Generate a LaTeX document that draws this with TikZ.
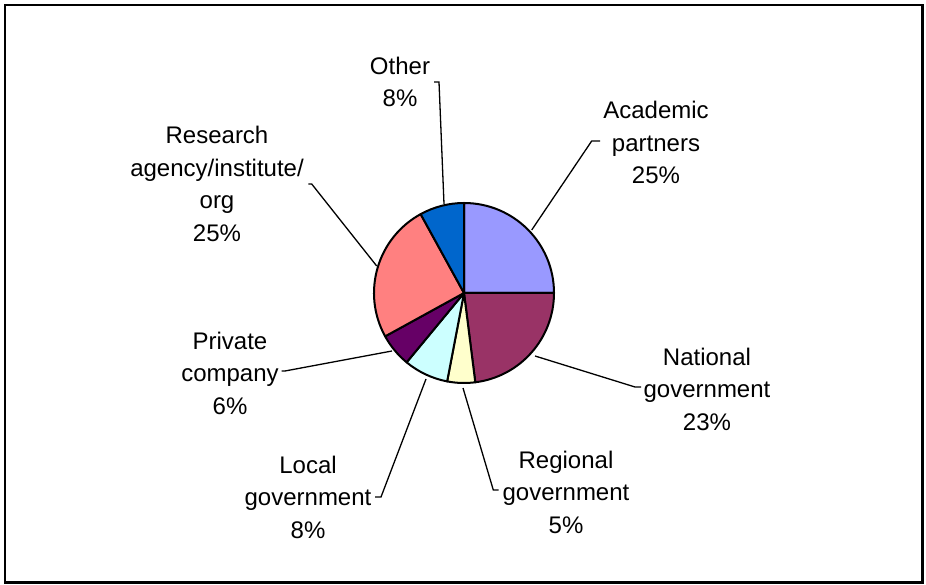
\documentclass[tikz,border=0pt]{standalone}
\usepackage{fontspec}
\setmainfont{Liberation Sans}
\definecolor{cAcad}{HTML}{9999FF}
\definecolor{cNat}{HTML}{993366}
\definecolor{cReg}{HTML}{FFFFCC}
\definecolor{cLoc}{HTML}{CCFFFF}
\definecolor{cPriv}{HTML}{660066}
\definecolor{cRes}{HTML}{FF8080}
\definecolor{cOth}{HTML}{0066CC}
\begin{document}
\begin{tikzpicture}[x=1pt,y=1pt,
  slice/.style={draw=black,line width=2pt,line join=round},
  leader/.style={draw=black,line width=1.3pt},
  lbl/.style={align=center,inner sep=0pt,font=\fontsize{24}{32.5}\selectfont}]
\useasboundingbox (0,0) rectangle (926,585);
\draw[line width=2.2pt] (5,2.5) rectangle (922.5,580);
\coordinate (c) at (464,292);
% slices
\filldraw[slice,fill=cAcad] (c) -- ++(0:90) arc[start angle=0,end angle=90,radius=90] -- cycle;
\filldraw[slice,fill=cNat] (c) -- ++(-82.8:90) arc[start angle=-82.8,end angle=0,radius=90] -- cycle;
\filldraw[slice,fill=cReg] (c) -- ++(-100.8:90) arc[start angle=-100.8,end angle=-82.8,radius=90] -- cycle;
\filldraw[slice,fill=cLoc] (c) -- ++(-129.6:90) arc[start angle=-129.6,end angle=-100.8,radius=90] -- cycle;
\filldraw[slice,fill=cPriv] (c) -- ++(-151.2:90) arc[start angle=-151.2,end angle=-129.6,radius=90] -- cycle;
\filldraw[slice,fill=cRes] (c) -- ++(118.8:90) arc[start angle=118.8,end angle=208.8,radius=90] -- cycle;
\filldraw[slice,fill=cOth] (c) -- ++(90:90) arc[start angle=90,end angle=118.8,radius=90] -- cycle;
% labels
\node[lbl] (lAcad) at (656,442.5) {Academic\\partners\\25\%};
\node[lbl] (lNat) at (707,196) {National\\government\\23\%};
\node[lbl] (lReg) at (566,93) {Regional\\government\\5\%};
\node[lbl] (lLoc) at (308,88) {Local\\government\\8\%};
\node[lbl] (lPriv) at (230,212) {Private\\company\\6\%};
\node[lbl] (lRes) at (217,401) {Research\\agency/institute/\\org\\25\%};
\node[lbl] (lOth) at (400,503) {Other\\8\%};
% leader points
\coordinate (sAcad) at (531.7,355); \coordinate (bAcad) at (591.7,444); \coordinate (eAcad) at (600,444);
\coordinate (sNat) at (535,229); \coordinate (bNat) at (635,198); \coordinate (eNat) at (641,198);
\coordinate (sReg) at (463,197); \coordinate (bReg) at (493.3,95); \coordinate (eReg) at (498.5,95);
\coordinate (sLoc) at (426,206); \coordinate (bLoc) at (381,88); \coordinate (eLoc) at (375,88);
\coordinate (sPriv) at (392,234); \coordinate (bPriv) at (285,214); \coordinate (ePriv) at (281.7,214);
\coordinate (sRes) at (376.7,319); \coordinate (bRes) at (311.7,401); \coordinate (eRes) at (308.3,401);
\coordinate (sOth) at (444,381); \coordinate (bOth) at (439,503); \coordinate (eOth) at (434,503);
\foreach \n in {Acad,Nat,Reg,Loc,Priv,Res,Oth}{
  \draw[leader] (s\n) -- (b\n) -- (e\n);
}
\end{tikzpicture}
\end{document}
